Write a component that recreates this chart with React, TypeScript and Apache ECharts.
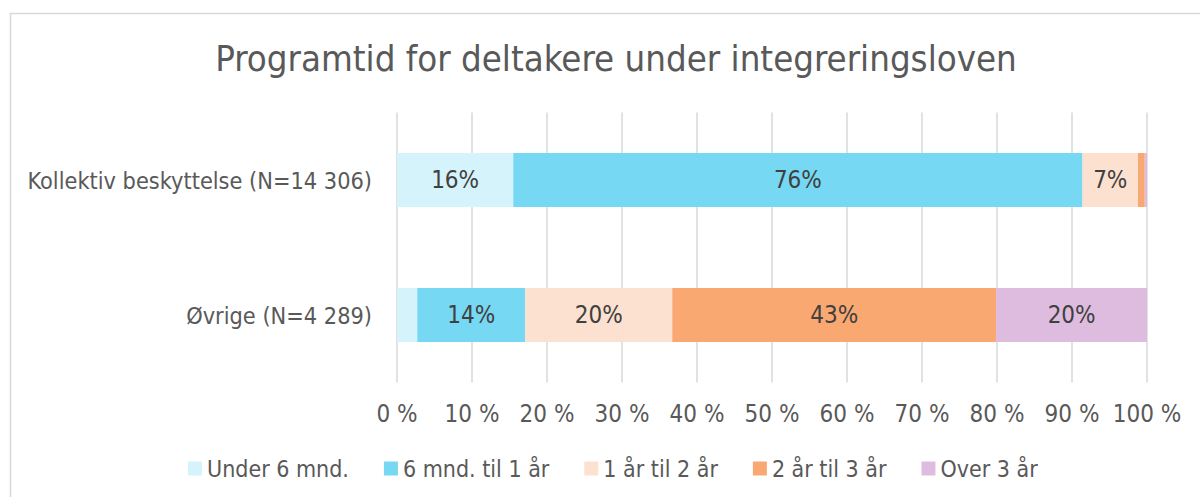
import React, { useEffect, useRef } from "react";
import * as echarts from "echarts";

const categories = ["Øvrige (N=4 289)", "Kollektiv beskyttelse (N=14 306)"];
const seriesNames = ["Under 6 mnd.", "6 mnd. til 1 år", "1 år til 2 år", "2 år til 3 år", "Over 3 år"];
const under6 = [2.7, 15.5];
const m6to1 = [14.4, 75.9];
const y1to2 = [19.6, 7.4];
const y2to3 = [43.2, 0.9];
const over3 = [20.1, 0.3];
const xTicks = [0, 10, 20, 30, 40, 50, 60, 70, 80, 90, 100];
const colors = ["#D5F3FB", "#76D8F2", "#FCE1D1", "#F9A872", "#DEBCDF"];

const FONT = "'DejaVu Sans Condensed', 'DejaVu Sans', sans-serif";

export default function App() {
  const ref = useRef<HTMLDivElement>(null);
  useEffect(() => {
    const chart = echarts.init(ref.current!, undefined, { renderer: "svg" });
    const data = [under6, m6to1, y1to2, y2to3, over3];
    chart.setOption({
      animation: false,
      backgroundColor: "#ffffff",
      textStyle: { fontFamily: FONT },
      title: {
        text: "Programtid for deltakere under integreringsloven",
        left: 611,
        textAlign: "center",
        top: 35,
        textStyle: { fontFamily: FONT, fontSize: 36.3, fontWeight: "normal", color: "#595959" },
      },
      graphic: [
        {
          type: "rect",
          shape: { x: 10.5, y: 13.5, width: 1300, height: 600 },
          style: { fill: "none", stroke: "#D9D9D9", lineWidth: 1.5 },
          silent: true,
        },
      ],
      legend: {
        data: seriesNames,
        left: 183,
        top: 452,
        itemWidth: 14,
        itemHeight: 14,
        itemGap: 35,
        icon: "rect",
        textStyle: { fontFamily: FONT, fontSize: 23, color: "#595959" },
      },
      grid: { left: 397, right: 53, top: 112.5, bottom: 114.5, containLabel: false },
      xAxis: {
        type: "value",
        min: 0,
        max: 100,
        interval: 10,
        axisLine: { show: false },
        axisTick: { show: false },
        splitLine: { show: true, lineStyle: { color: "#D9D9D9", width: 1.5 } },
        axisLabel: {
          margin: 19,
          fontFamily: FONT,
          fontSize: 24,
          color: "#595959",
          formatter: (v: number) => (xTicks.includes(v) ? `${v} %` : ""),
        },
      },
      yAxis: {
        type: "category",
        data: categories,
        axisLine: { show: false },
        axisTick: { show: false },
        axisLabel: { margin: 25, fontFamily: FONT, fontSize: 23.3, color: "#595959" },
      },
      series: seriesNames.map((name, i) => ({
        name,
        type: "bar",
        stack: "total",
        barWidth: "40%",
        itemStyle: { color: colors[i] },
        label: {
          show: true,
          position: "inside",
          fontFamily: FONT,
          fontSize: 24,
          color: "#404040",
          formatter: (p: any) => (p.value >= 5 ? `${Math.round(p.value)}%` : ""),
        },
        data: data[i],
      })),
    });
    return () => chart.dispose();
  }, []);
  return (
    <div
      ref={ref}
      style={{ position: "absolute", left: 0, top: 0, width: 1200, height: 497 }}
    />
  );
}
